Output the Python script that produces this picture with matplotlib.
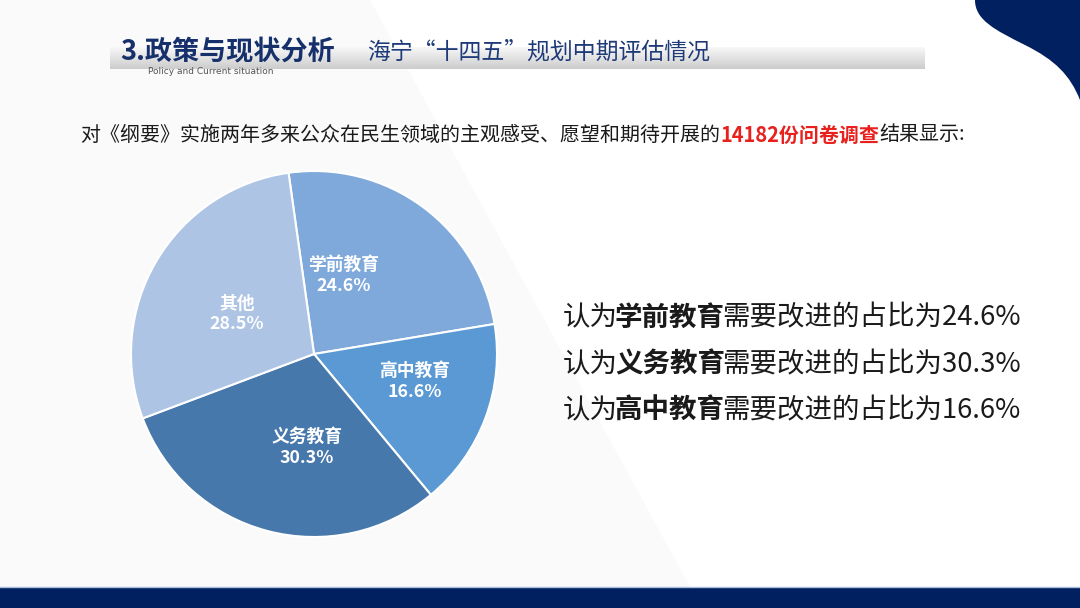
import numpy as np
import matplotlib
matplotlib.use("Agg")
import matplotlib.pyplot as plt
from matplotlib.patches import Polygon, Rectangle, PathPatch
from matplotlib.path import Path

plt.rcParams['font.family'] = ['Noto Sans CJK SC', 'DejaVu Sans']

# data
categories = ["学前教育", "高中教育", "义务教育", "其他"]
shares = [24.6, 16.6, 30.3, 28.5]
colors = ["#7EA9DA", "#5A99D4", "#4778AB", "#AEC4E5"]
# label spots inside the pie (pie units)
label_xy = [(0.16, 0.43), (0.55, -0.15), (-0.04, -0.51), (-0.42, 0.22)]
# the three statements on the right
statement_cats = ["学前教育", "义务教育", "高中教育"]

title_main = "3.政策与现状分析"
title_sub = "海宁“十四五”规划中期评估情况"
title_en = "Policy and Current situation"
intro_runs = [("对《纲要》实施两年多来公众在民生领域的主观感受、愿望和期待开展的", "normal", "#1a1a1a"),
              ("14182份问卷调查", "bold", "#E8201E"),
              ("结果显示:", "normal", "#1a1a1a")]

navy = "#00205F"

fig = plt.figure(figsize=(10.8, 6.08), dpi=100)
bg = fig.add_axes([0, 0, 1, 1])
bg.set_xlim(0, 1080)
bg.set_ylim(608, 0)
bg.axis("off")

# faint grey panel behind the left part
bg.add_patch(Polygon([(0, 0), (370, 0), (690, 587), (0, 587)], closed=True,
                     facecolor="#FAFAFA", edgecolor="none", zorder=0))

# bottom band
bg.add_patch(Rectangle((0, 587), 1080, 21, facecolor=navy, edgecolor="none", zorder=1))
bg.plot([0, 1080], [587, 587], color="#A9BEDD", lw=1, zorder=2)

# top right curved corner
verts = [(975, 0), (975, 20), (995, 30), (1025, 45),
         (1055, 60), (1070, 75), (1080, 100), (1080, 0), (975, 0)]
codes = [Path.MOVETO, Path.CURVE4, Path.CURVE4, Path.CURVE4,
         Path.CURVE4, Path.CURVE4, Path.CURVE4, Path.LINETO, Path.CLOSEPOLY]
bg.add_patch(PathPatch(Path(verts, codes), facecolor=navy, edgecolor="none", zorder=1))

# grey gradient bar under the title
grad = np.linspace(0.97, 0.80, 50).reshape(-1, 1)
bg.imshow(np.repeat(grad, 2, axis=1), cmap="gray", vmin=0, vmax=1, aspect="auto",
          extent=(110, 925, 69, 47), zorder=1)
bg.set_xlim(0, 1080)
bg.set_ylim(608, 0)

bg.text(120, 52, title_main, fontsize=19.5, fontweight="bold", color="#15306B",
        va="center", ha="left", zorder=3)
bg.text(367, 52, title_sub, fontsize=16.5, color="#1E3A78", va="center", ha="left", zorder=3)
bg.text(148, 72, title_en, fontsize=6.5, color="#555555", va="center", ha="left",
        family=["DejaVu Sans"], zorder=3)

renderer = fig.canvas.get_renderer()


def draw_runs(x, y, runs, size, trim=0):
    for txt, weight, col in runs:
        t = bg.text(x, y, txt, fontsize=size, fontweight=weight, color=col,
                    va="center", ha="left", zorder=3)
        x += t.get_window_extent(renderer).width - trim
    return x


draw_runs(80, 135, intro_runs, 14.4)

# statements on the right
for i, cat in enumerate(statement_cats):
    val = shares[categories.index(cat)]
    runs = [("认为", "normal", "#1a1a1a"), (cat, "bold", "#1a1a1a"),
            ("需要改进的占比为" + f"{val}%", "normal", "#1a1a1a")]
    draw_runs(563, 318 + i * 46.5, runs, 19.8, trim=3)

# pie
cx, cy, r = 314, 608 - 354, 183
ax = fig.add_axes([(cx - r) / 1080, (cy - r) / 608, 2 * r / 1080, 2 * r / 608])
ax.pie(shares, colors=colors, startangle=98, counterclock=False,
       wedgeprops=dict(edgecolor="white", linewidth=1.5))
ax.set_xlim(-1, 1)
ax.set_ylim(-1, 1)
ax.set_aspect("equal")
for cat, val, (lx, ly) in zip(categories, shares, label_xy):
    ax.text(lx, ly, f"{cat}\n{val}%", ha="center", va="center", fontsize=12.8,
            fontweight="bold", color="white", linespacing=1.2)

fig.savefig("out.png", dpi=100)
